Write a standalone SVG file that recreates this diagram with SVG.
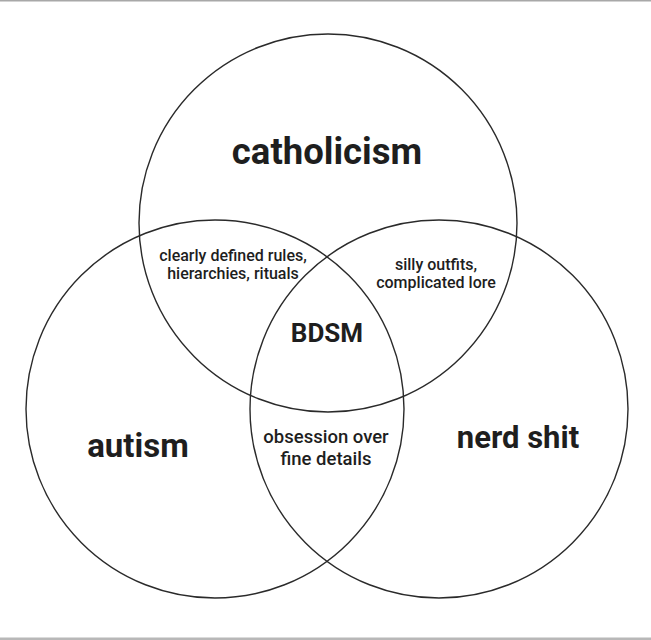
<svg xmlns="http://www.w3.org/2000/svg" width="651" height="640" viewBox="0 0 651 640">
<style>
.c{fill:none;stroke:#2a2a2a;stroke-width:1.4}
.big{font-family:Roboto,"Liberation Sans",sans-serif;font-weight:700;fill:#1e1e1e;text-anchor:middle}
.sm{font-family:Roboto,"Liberation Sans",sans-serif;font-weight:500;fill:#1e1e1e;text-anchor:middle}
</style>
<rect width="651" height="640" fill="#fff"/>
<rect x="0" y="0" width="651" height="1.5" fill="#a8a8a8"/>
<rect x="0" y="637.5" width="651" height="2.5" fill="#b8b8b8"/>
<g id="catholicism">
<circle class="c" cx="328" cy="223" r="189"/>
<text class="big" x="327" y="164" font-size="36.5">catholicism</text>
</g>
<g id="autism">
<circle class="c" cx="215" cy="409" r="189"/>
<text class="big" x="138" y="457" font-size="33">autism</text>
</g>
<g id="nerd">
<circle class="c" cx="439" cy="409" r="189"/>
<text class="big" x="518" y="448" font-size="31">nerd shit</text>
</g>
<g id="overlaps">
<text class="sm" x="233" y="261" font-size="16">clearly defined rules,</text>
<text class="sm" x="233" y="279" font-size="16">hierarchies, rituals</text>
<text class="sm" x="436" y="270" font-size="16">silly outfits,</text>
<text class="sm" x="436" y="288" font-size="16">complicated lore</text>
<text class="sm" x="326" y="443" font-size="18.5">obsession over</text>
<text class="sm" x="326" y="465" font-size="18.5">fine details</text>
<text class="big" x="327" y="342" font-size="26">BDSM</text>
</g>
</svg>
